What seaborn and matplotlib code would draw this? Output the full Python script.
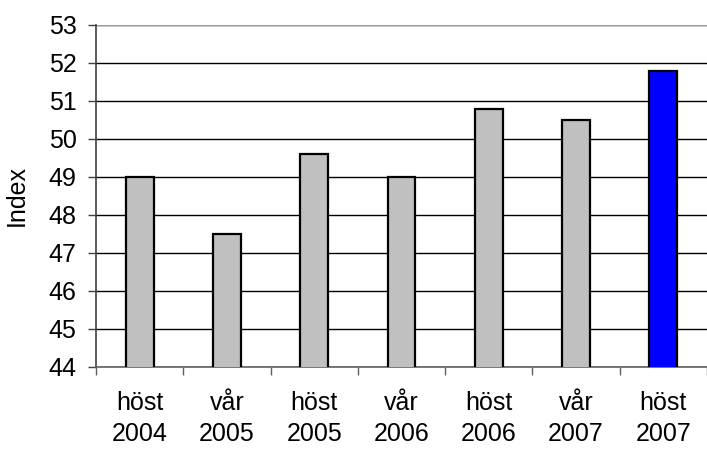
import pandas as pd
import numpy as np
import seaborn as sns
import matplotlib
matplotlib.use('Agg')
import matplotlib.pyplot as plt

# data
labels = ['höst\n2004', 'vår\n2005', 'höst\n2005', 'vår\n2006', 'höst\n2006', 'vår\n2007', 'höst\n2007']
values = [49.0, 47.5, 49.6, 49.0, 50.8, 50.5, 51.8]
colors = ['#c0c0c0'] * 6 + ['#0000ff']

df = pd.DataFrame({'period': labels, 'index': values})

sns.set_style('white')
plt.rcParams['font.family'] = ['Liberation Sans', 'DejaVu Sans']

fig = plt.figure(figsize=(7.07, 4.49), dpi=100)
# axes from x=96..707 px, y=25..367 px
ax = fig.add_axes([96/707, (449-367)/449, (707-96)/707, (367-25)/449])

sns.barplot(data=df, x='period', y='index', hue='period', palette=colors, legend=False,
            width=0.32, edgecolor='black', linewidth=1.6, saturation=1, ax=ax, zorder=3)

ax.set_ylim(44, 53)
ax.set_yticks(np.arange(44, 54, 1))
ax.set_xlim(-0.5, -0.5 + (707-96)/88.3)
ax.yaxis.grid(True, color='black', linewidth=1.0, zorder=0)
ax.set_axisbelow(True)

for s in ['top', 'right']:
    ax.spines[s].set_visible(False)
ax.spines['left'].set_color('#404040')
ax.spines['bottom'].set_color('#606060')
ax.spines['left'].set_linewidth(1.2)
ax.spines['bottom'].set_linewidth(1.2)
# grey top line at 53
ax.axhline(53, color='#999999', linewidth=1.5, zorder=1)

fs = 18
ax.tick_params(axis='y', left=True, direction='out', length=6, color='#404040', width=1,
               labelsize=fs, labelcolor='black', pad=8)
ax.set_xticks(np.arange(0, 7))
ax.set_xticklabels(labels, fontsize=fs, linespacing=1.38, color='black')
ax.tick_params(axis='x', which='major', bottom=False, length=0, pad=17)
ax.set_xticks(np.arange(-0.5, 6.6, 1), minor=True)
ax.tick_params(axis='x', which='minor', bottom=True, direction='out', length=6, color='#606060', width=1)

ax.set_xlabel('')
ax.set_ylabel('Index', fontsize=fs, labelpad=14, color='black')

fig.savefig('out.png', dpi=100)
